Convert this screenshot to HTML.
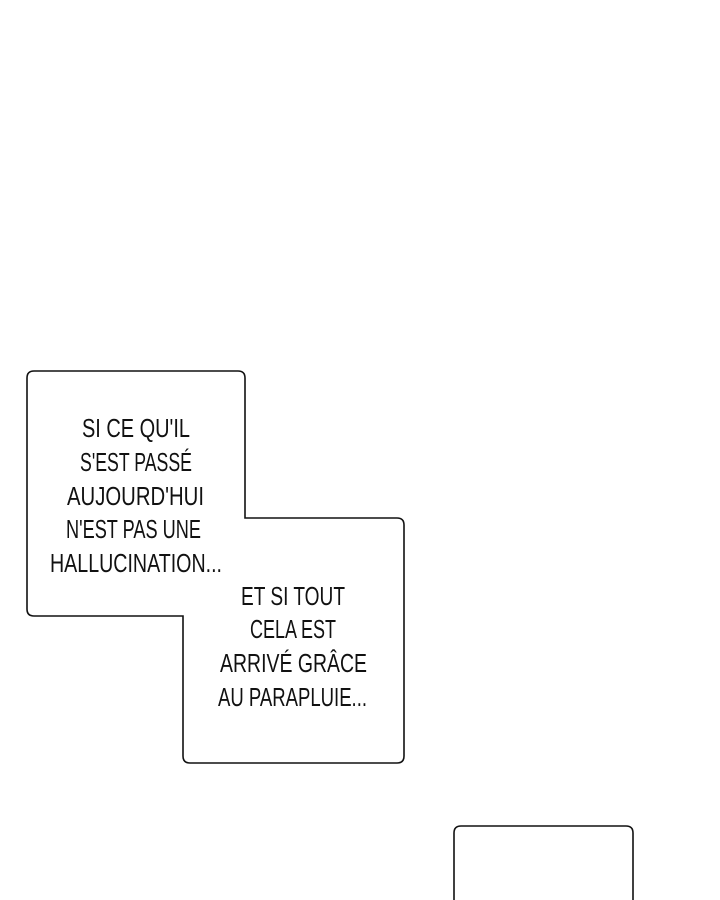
<!DOCTYPE html>
<html><head><meta charset="utf-8"><style>html,body{margin:0;padding:0;background:#fff;width:720px;height:900px;overflow:hidden}</style></head>
<body>
<svg width="720" height="900" viewBox="0 0 720 900" xmlns="http://www.w3.org/2000/svg">
<path d="M34,371 H238 Q245,371 245,378 V518 H397 Q404,518 404,525 V756 Q404,763 397,763 H190 Q183,763 183,756 V616 H34 Q27,616 27,609 V378 Q27,371 34,371 Z" fill="#fff" stroke="#111" stroke-width="1.6"/>
<path d="M454,900 V833 Q454,826 461,826 H626 Q633,826 633,833 V900" fill="#fff" stroke="#111" stroke-width="1.6"/>
<g font-family="'Liberation Sans Narrow','Liberation Sans',sans-serif" font-size="26" fill="#111">
<text x="82" y="437" textLength="108" lengthAdjust="spacingAndGlyphs">SI CE QU'IL</text>
<text x="80" y="471" textLength="112" lengthAdjust="spacingAndGlyphs">S'EST PASSÉ</text>
<text x="67" y="505" textLength="137" lengthAdjust="spacingAndGlyphs">AUJOURD'HUI</text>
<text x="66" y="538" textLength="135" lengthAdjust="spacingAndGlyphs">N'EST PAS UNE</text>
<text x="50" y="572" textLength="172" lengthAdjust="spacingAndGlyphs">HALLUCINATION...</text>
<text x="241" y="605" textLength="104" lengthAdjust="spacingAndGlyphs">ET SI TOUT</text>
<text x="250" y="638" textLength="86" lengthAdjust="spacingAndGlyphs">CELA EST</text>
<text x="220" y="672" textLength="147" lengthAdjust="spacingAndGlyphs">ARRIVÉ  GRÂCE</text>
<text x="218" y="706" textLength="149" lengthAdjust="spacingAndGlyphs">AU PARAPLUIE...</text>
</g>
</svg>
</body></html>
